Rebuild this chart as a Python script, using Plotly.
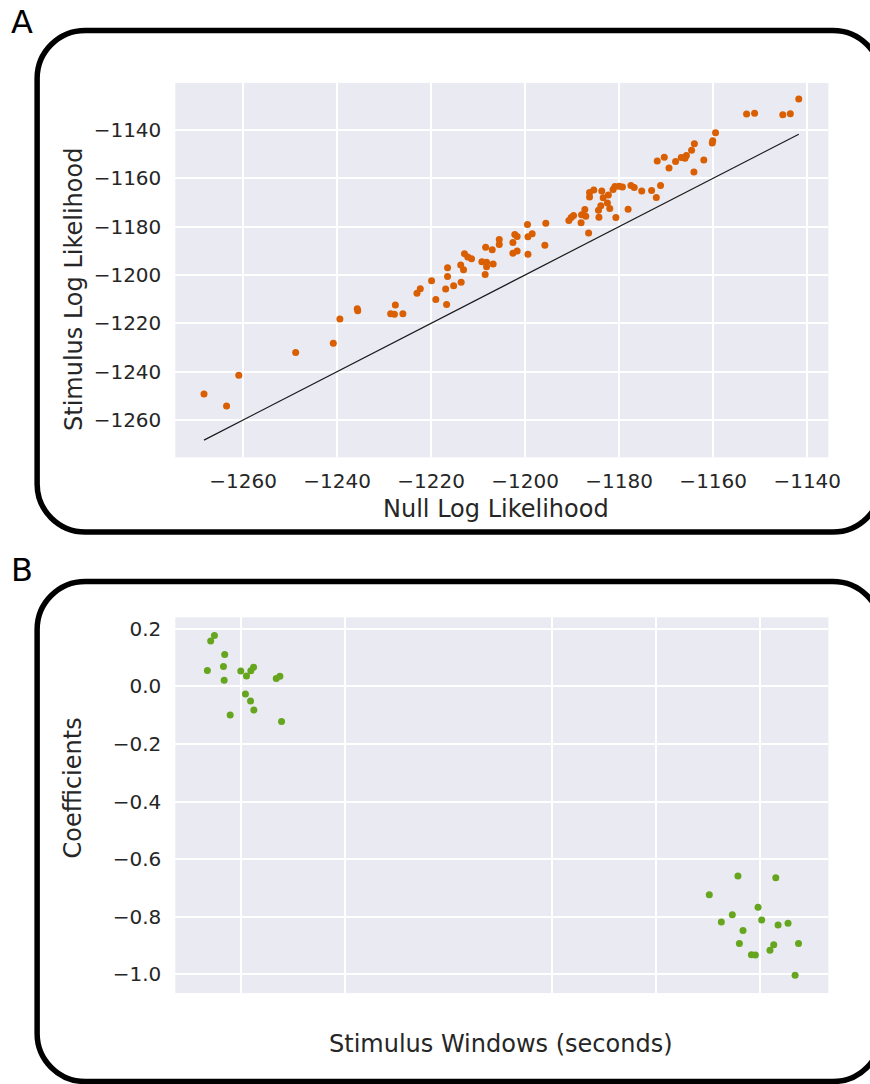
import plotly.graph_objects as go

W, H = 870, 1084
PAPER_W = 855  # effective drawing width of the page

# Panel A: log likelihood of the null model vs the stimulus model
null_loglik = [
    -1141.8, -1152.9, -1151.2, -1145.2, -1143.6, -1159.5, -1160.1, -1160.2, -1164.0, -1164.6,
    -1162.0, -1164.1, -1165.7, -1166.0, -1166.8, -1168.0, -1169.4, -1170.4, -1171.9, -1171.2,
    -1172.1, -1173.1, -1175.2, -1176.8, -1177.5, -1178.1, -1179.3, -1180.0, -1180.9, -1181.3,
    -1180.7, -1182.3, -1183.4, -1183.7, -1182.5, -1182.0, -1183.9, -1184.4, -1184.3, -1185.4,
    -1186.3, -1186.3, -1186.5, -1187.3, -1187.1, -1188.0, -1188.1, -1189.7, -1190.2, -1190.7,
    -1195.6, -1195.8, -1198.5, -1199.4, -1199.5, -1199.4, -1201.7, -1202.2, -1202.6, -1201.7,
    -1202.6, -1205.5, -1205.5, -1207.0, -1208.4,
    -1212.9, -1212.2, -1211.4, -1216.5, -1213.7, -1213.1, -1209.2, -1208.2, -1208.2, -1206.8,
    -1208.5, -1216.5, -1219.9, -1213.6, -1215.2, -1216.9, -1223.0, -1222.3, -1219.0, -1216.7,
    -1227.6, -1228.6, -1227.8, -1226.0, -1235.7, -1235.6, -1239.4, -1240.8, -1248.8, -1260.9,
    -1268.3, -1263.5,
]
stim_loglik = [
    -1127.3, -1133.5, -1133.1, -1133.8, -1133.3, -1141.2, -1144.5, -1145.4, -1145.8, -1148.4,
    -1152.5, -1157.4, -1150.6, -1151.7, -1151.4, -1153.1, -1155.8, -1151.3, -1152.9, -1163.0,
    -1168.0, -1165.1, -1165.3, -1163.8, -1163.0, -1172.8, -1163.6, -1163.3, -1163.4, -1164.7,
    -1176.2, -1166.9, -1168.1, -1165.3, -1170.3, -1172.5, -1171.4, -1173.3, -1176.1, -1164.9,
    -1165.9, -1167.8, -1182.7, -1172.9, -1175.7, -1175.1, -1178.4, -1175.4, -1176.2, -1177.5,
    -1178.6, -1187.7, -1183.0, -1184.2, -1179.1, -1191.4, -1184.1, -1183.3, -1186.6, -1190.1,
    -1191.0, -1185.3, -1187.4, -1189.6, -1188.6,
    -1191.2, -1192.6, -1193.3, -1197.0, -1195.9, -1197.9, -1194.5, -1194.8, -1196.6, -1195.5,
    -1199.8, -1200.6, -1202.4, -1203.0, -1204.5, -1205.8, -1207.6, -1205.7, -1210.2, -1212.2,
    -1212.4, -1216.0, -1216.3, -1216.0, -1214.0, -1214.8, -1218.2, -1228.3, -1232.1, -1241.5,
    -1249.2, -1254.2,
]
ll_ticks = [-1260, -1240, -1220, -1200, -1180, -1160, -1140]

# Panel B: fitted coefficients for the two stimulus windows
window_pos = [
    -0.254, -0.290, -0.155, -0.322, -0.167, -0.160, 0.000, 0.055, 0.097, 0.123,
    0.342, 0.377, 0.045, 0.094, 0.126, -0.102, 0.393,
    4.792, 5.157, 4.516, 4.986, 4.738, 4.632, 5.021, 5.179, 5.275, 4.841,
    4.806, 5.137, 5.101, 5.376, 4.922, 4.960, 5.343,
]
coefficients = [
    0.176, 0.157, 0.110, 0.055, 0.069, 0.021, 0.053, 0.036, 0.054, 0.066,
    0.027, 0.035, -0.027, -0.051, -0.082, -0.100, -0.122,
    -0.659, -0.665, -0.724, -0.767, -0.793, -0.818, -0.811, -0.829, -0.823, -0.848,
    -0.893, -0.897, -0.916, -0.893, -0.932, -0.933, -1.003,
]
window_ticks = [0, 1, 3, 4, 5]
coef_ticks = [0.2, 0.0, -0.2, -0.4, -0.6, -0.8, -1.0]

ORANGE = "#d95f02"
GREEN = "#66a61e"
BG = "#eaeaf2"
TXT = "#262626"
FONT = "DejaVu Sans"


def px(x):
    return x / PAPER_W


def py(y):
    return 1 - y / H


def fmt(v, dec=0):
    s = f"{abs(v):.{dec}f}"
    return ("\u2212" + s) if v < 0 else s


fig = go.Figure()

fig.add_trace(go.Scatter(
    x=null_loglik, y=stim_loglik, mode="markers",
    marker=dict(color=ORANGE, size=7, line=dict(width=0)),
    xaxis="x", yaxis="y", showlegend=False, hoverinfo="skip",
))
lo, hi = min(null_loglik), max(null_loglik)
fig.add_trace(go.Scatter(
    x=[lo, hi], y=[lo, hi], mode="lines",
    line=dict(color="#1a1a1a", width=1.2),
    xaxis="x", yaxis="y", showlegend=False, hoverinfo="skip",
))
fig.add_trace(go.Scatter(
    x=window_pos, y=coefficients, mode="markers",
    marker=dict(color=GREEN, size=7, line=dict(width=0)),
    xaxis="x2", yaxis="y2", showlegend=False, hoverinfo="skip",
))

axis_common = dict(
    showgrid=True, gridcolor="white", gridwidth=1.6, zeroline=False,
    showline=False, ticks="outside", tickcolor="rgba(0,0,0,0)",
    tickfont=dict(family=FONT, size=20, color=TXT),
)
x0, x1 = px(174.7), px(825.5)

fig.update_layout(
    width=W, height=H, autosize=False,
    margin=dict(l=0, r=0, t=0, b=0),
    paper_bgcolor="white", plot_bgcolor=BG,
    xaxis=dict(domain=[x0, x1], range=[-1274.4, -1135.5], anchor="y", ticklen=6,
               tickmode="array", tickvals=ll_ticks, ticktext=[fmt(v) for v in ll_ticks],
               **axis_common),
    yaxis=dict(domain=[py(456.7), py(82)], range=[-1275.4, -1120.6], anchor="x", ticklen=9,
               tickmode="array", tickvals=ll_ticks, ticktext=[fmt(v) for v in ll_ticks],
               **axis_common),
    xaxis2=dict(domain=[x0, x1], range=[-0.631, 5.664], anchor="y2", ticklen=6,
                tickmode="array", tickvals=window_ticks, showticklabels=False,
                **axis_common),
    yaxis2=dict(domain=[py(993), py(617)], range=[-1.065, 0.239], anchor="x2", ticklen=9,
                tickmode="array", tickvals=coef_ticks,
                ticktext=[fmt(v, 1) for v in coef_ticks],
                **axis_common),
)


def text(x, y, s, size, angle=0):
    fig.add_annotation(
        x=px(x), y=py(y), xref="paper", yref="paper", text=s, showarrow=False,
        textangle=angle, xanchor="center", yanchor="middle",
        font=dict(family=FONT, size=size, color="black" if size > 28 else TXT),
    )


text(22, 21, "A", 32)
text(22, 570, "B", 32)
text(73, 289, "Stimulus Log Likelihood", 24, -90)
text(494, 508, "Null Log Likelihood", 24)
text(73, 788, "Coefficients", 24, -90)
text(499, 1044, "Stimulus Windows (seconds)", 24)


def rounded_box(left, top, right, bottom, r):
    k = 0.5523 * r

    def P(x, y):
        return f"{px(x):.5f},{py(y):.5f}"

    d = (
        f"M{P(left + r, top)} L{P(right - r, top)} "
        f"C{P(right - r + k, top)} {P(right, top + r - k)} {P(right, top + r)} "
        f"L{P(right, bottom - r)} "
        f"C{P(right, bottom - r + k)} {P(right - r + k, bottom)} {P(right - r, bottom)} "
        f"L{P(left + r, bottom)} "
        f"C{P(left + r - k, bottom)} {P(left, bottom - r + k)} {P(left, bottom - r)} "
        f"L{P(left, top + r)} "
        f"C{P(left, top + r - k)} {P(left + r - k, top)} {P(left + r, top)} Z"
    )
    fig.add_shape(type="path", path=d, xref="paper", yref="paper",
                  line=dict(color="black", width=5.5), fillcolor="rgba(0,0,0,0)",
                  layer="above")


rounded_box(37, 29.5, 878, 531.5, 48)
rounded_box(37, 581, 878, 1081.5, 48)

fig.write_html("out.html", config={"responsive": False})
